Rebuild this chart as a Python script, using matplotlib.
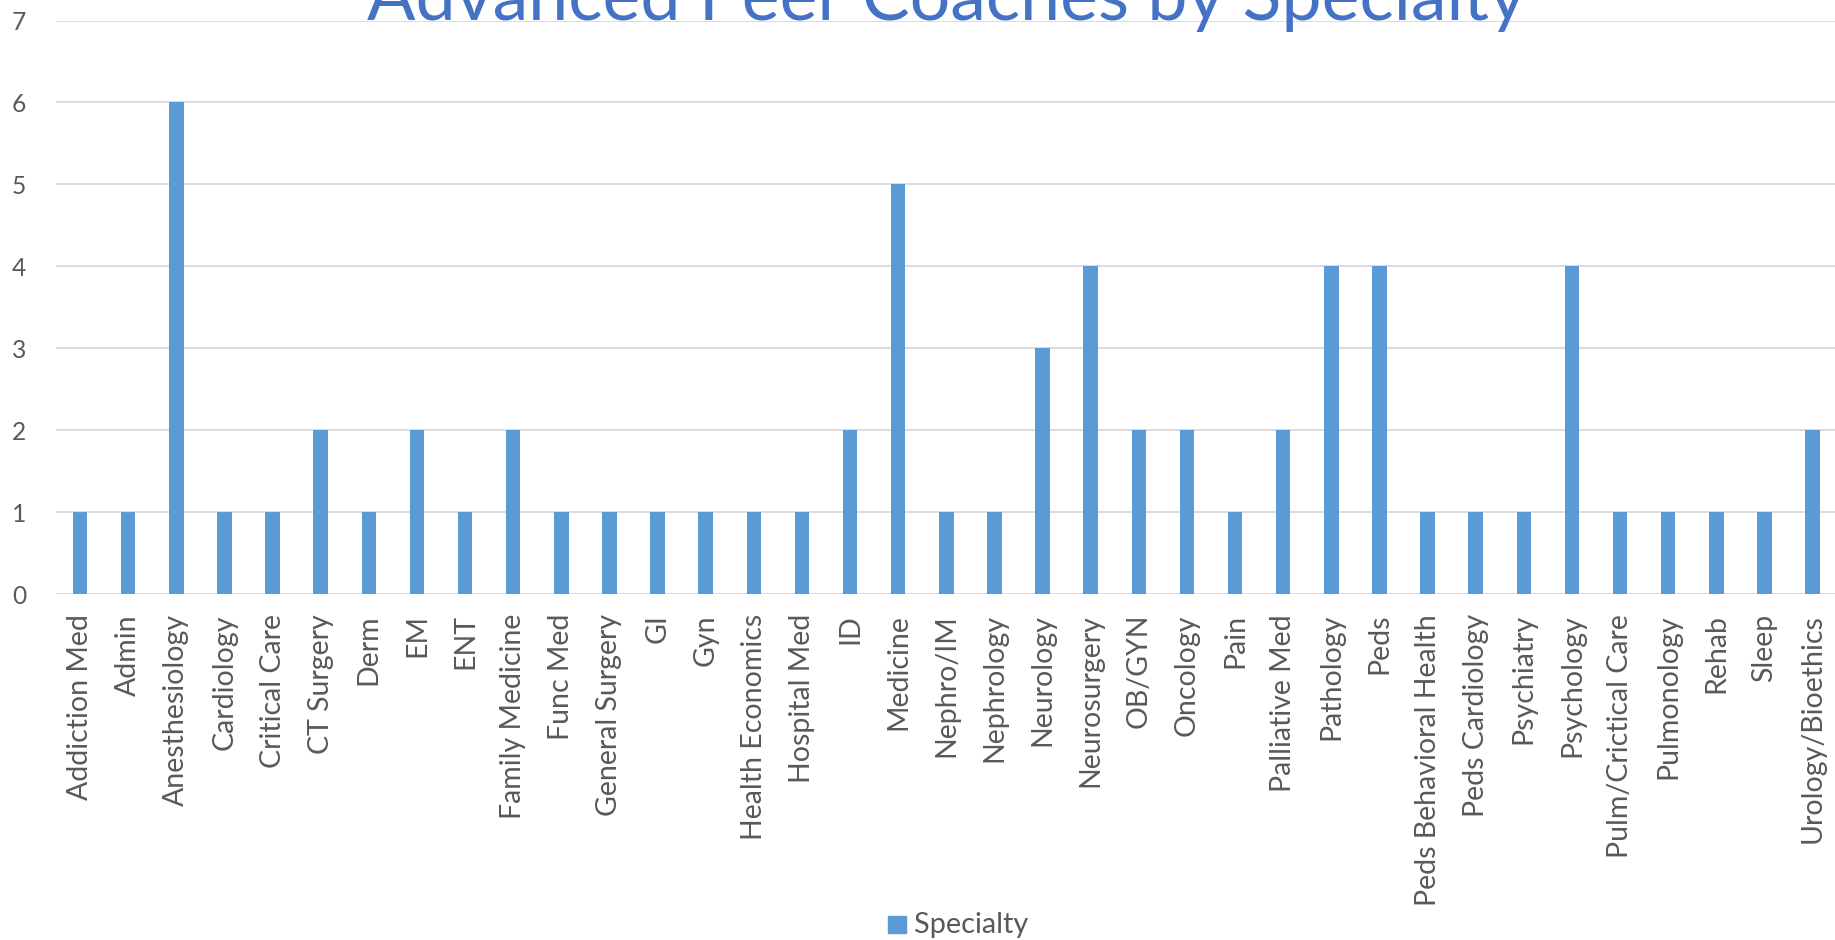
import matplotlib
matplotlib.use("Agg")
import matplotlib.pyplot as plt
from matplotlib.patches import Rectangle
from matplotlib.textpath import TextPath
from matplotlib.font_manager import FontProperties

specialties = [
    "Addiction Med", "Admin", "Anesthesiology", "Cardiology", "Critical Care",
    "CT Surgery", "Derm", "EM", "ENT", "Family Medicine", "Func Med",
    "General Surgery", "GI", "Gyn", "Health Economics", "Hospital Med", "ID",
    "Medicine", "Nephro/IM", "Nephrology", "Neurology", "Neurosurgery",
    "OB/GYN", "Oncology", "Pain", "Palliative Med", "Pathology", "Peds",
    "Peds Behavioral Health", "Peds Cardiology", "Psychiatry", "Psychology",
    "Pulm/Crictical Care", "Pulmonology", "Rehab", "Sleep", "Urology/Bioethics",
]
coaches = [1, 1, 6, 1, 1, 2, 1, 2, 1, 2, 1, 1, 1, 1, 1, 1, 2, 5, 1, 1, 3, 4,
           2, 2, 1, 2, 4, 4, 1, 1, 1, 4, 1, 1, 1, 1, 2]
y_ticks = [0, 1, 2, 3, 4, 5, 6, 7]
title = "Advanced Peer Coaches by Specialty"
series_name = "Specialty"

BAR = "#5B9BD5"
TEXT = "#595959"
GRID = "#D9D9D9"
TITLE = "#4472C4"
FAMILY = "Lato"

W, H, DPI = 1835, 940, 100


def ink_size(text, px, dim="w", weight="normal"):
    """Font size (pt) whose glyph ink spans `px` pixels in width or height."""
    fp = FontProperties(family=FAMILY, weight=weight)
    ext = TextPath((0, 0), text, size=100, prop=fp).get_extents()
    span = ext.width if dim == "w" else ext.height
    return px * 72 / DPI * 100 / span


label_fs = (ink_size("Addiction Med", 188) + ink_size("Urology/Bioethics", 222)
            + ink_size("Pulm/Crictical Care", 238)) / 3
ytick_fs = ink_size("0", 18, dim="h")
legend_fs = ink_size(series_name, 113)
title_fs = ink_size(title, 1159)

fig = plt.figure(figsize=(W / DPI, H / DPI), dpi=DPI)
ax_left, ax_right, ax_top, ax_bottom = 56, 1836.6, 20.5, 594
ax = fig.add_axes([ax_left / W, 1 - ax_bottom / H,
                   (ax_right - ax_left) / W, (ax_bottom - ax_top) / H])

x = list(range(len(specialties)))
ax.bar(x, coaches, width=0.30, color=BAR, zorder=3)

ax.set_xlim(-0.5, len(specialties) - 0.5)
ax.set_ylim(0, 7)
ax.set_yticks(y_ticks)
ax.set_yticklabels([str(v) for v in y_ticks], fontsize=ytick_fs,
                   family=FAMILY, color=TEXT)
ax.grid(axis="y", color=GRID, linewidth=1.3, zorder=0)
for s in ax.spines.values():
    s.set_visible(False)
ax.tick_params(axis="both", length=0)
ax.tick_params(axis="y", pad=30 * 72 / DPI)
ax.tick_params(axis="x", pad=20 * 72 / DPI)
ax.set_xticks(x)
ax.set_xticklabels(specialties, rotation=90, fontsize=label_fs, family=FAMILY,
                   color=TEXT, va="top", ha="center")

fig.text(946 / W, 1 - 20 / H, title, ha="center", va="baseline",
         fontsize=title_fs, color=TITLE, family=FAMILY)

# legend entry below the category labels
fig.patches.append(Rectangle((888 / W, 1 - 933 / H), 18 / W, 17 / H,
                             transform=fig.transFigure, color=BAR))
fig.text(914 / W, 1 - 933 / H, series_name, ha="left", va="baseline",
         fontsize=legend_fs, color=TEXT, family=FAMILY)

fig.savefig("out.png", dpi=DPI, facecolor="white")
